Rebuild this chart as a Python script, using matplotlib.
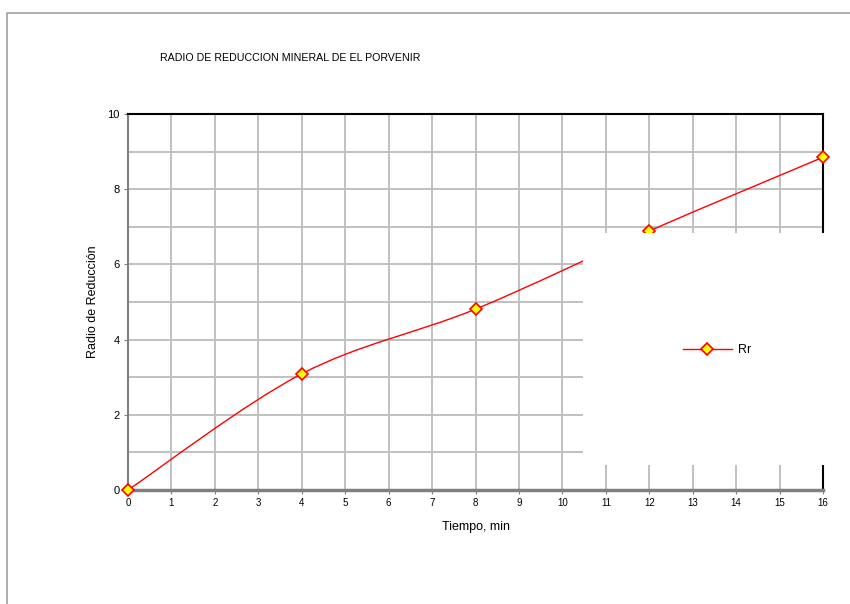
import numpy as np
import matplotlib
matplotlib.use('Agg')
import matplotlib.pyplot as plt
from matplotlib.path import Path
from matplotlib.patches import PathPatch, Rectangle
from matplotlib.lines import Line2D

plt.rcParams['font.family'] = ['Liberation Sans Narrow', 'Liberation Sans', 'DejaVu Sans']

# datos
tiempo = [0, 4, 8, 12, 16]
rr = [0.0, 3.09, 4.81, 6.89, 8.85]
xticks = list(range(0, 17))
yticks = [0, 2, 4, 6, 8, 10]

fig = plt.figure(figsize=(8.5, 6.04), dpi=100)
ax = fig.add_axes([128/850, 1-490/604, (823-128)/850, (490-114)/604])

# curva suavizada tipo Excel (bezier Catmull-Rom sobre los puntos)
pts = np.column_stack([tiempo, rr])
verts = [pts[0]]
codes = [Path.MOVETO]
n = len(pts)
for i in range(n-1):
    p0 = pts[max(i-1, 0)]
    p1 = pts[i]
    p2 = pts[i+1]
    p3 = pts[min(i+2, n-1)]
    verts += [p1 + (p2-p0)/6, p2 - (p3-p1)/6, p2]
    codes += [Path.CURVE4]*3
ax.add_patch(PathPatch(Path(verts, codes), facecolor='none', edgecolor='red', lw=1.0, zorder=3))
ax.plot(tiempo, rr, linestyle='none', marker='D', ms=6, mfc='yellow', mec='red', mew=1.2, zorder=4, clip_on=False)

ax.set_xlim(0, 16)
ax.set_ylim(0, 10)
ax.set_xticks(xticks)
ax.set_yticks(yticks)
ax.set_yticks(range(0, 11), minor=True)
ax.grid(True, which='both', color='#c0c0c0', lw=1.4)
ax.set_axisbelow(True)
ax.tick_params(axis='both', length=3, color='#808080', pad=3)
ax.tick_params(axis='x', labelsize=7)
ax.tick_params(axis='y', labelsize=8)
ax.tick_params(axis='y', which='minor', length=0)

for s in ['top', 'right']:
    ax.spines[s].set_color('black')
    ax.spines[s].set_linewidth(1.5)
ax.spines['left'].set_color('#808080')
ax.spines['left'].set_linewidth(1.5)
ax.spines['bottom'].set_color('#808080')
ax.spines['bottom'].set_linewidth(2.5)

ax.set_xlabel('Tiempo, min', fontsize=9, labelpad=9)
ax.set_ylabel('Radio de Reducción', fontsize=9, labelpad=6)

fig.text(160/850, 1-58/604, 'RADIO DE REDUCCION MINERAL DE EL PORVENIR', fontsize=7.7, ha='left', va='center')

# caja de leyenda blanca
fig.patches.append(Rectangle((583/850, 1-465/604), (850-583)/850, (465-233)/604,
                             transform=fig.transFigure, facecolor='white', edgecolor='none', zorder=5))
h = Line2D([], [], color='red', lw=1.0, marker='D', ms=6, mfc='yellow', mec='red', mew=1.2)
leg = fig.legend([h], ['Rr'], loc='center', bbox_to_anchor=(717/850, 1-350/604), frameon=False,
                 fontsize=9, handlelength=3.9, handletextpad=0.5)
leg.set_zorder(6)

# borde exterior
fig.lines.append(Line2D([7/850, 7/850, 1], [0, 1-13/604, 1-13/604], transform=fig.transFigure,
                        color='#a0a0a0', lw=1.2))

fig.savefig('out.png', dpi=100)
